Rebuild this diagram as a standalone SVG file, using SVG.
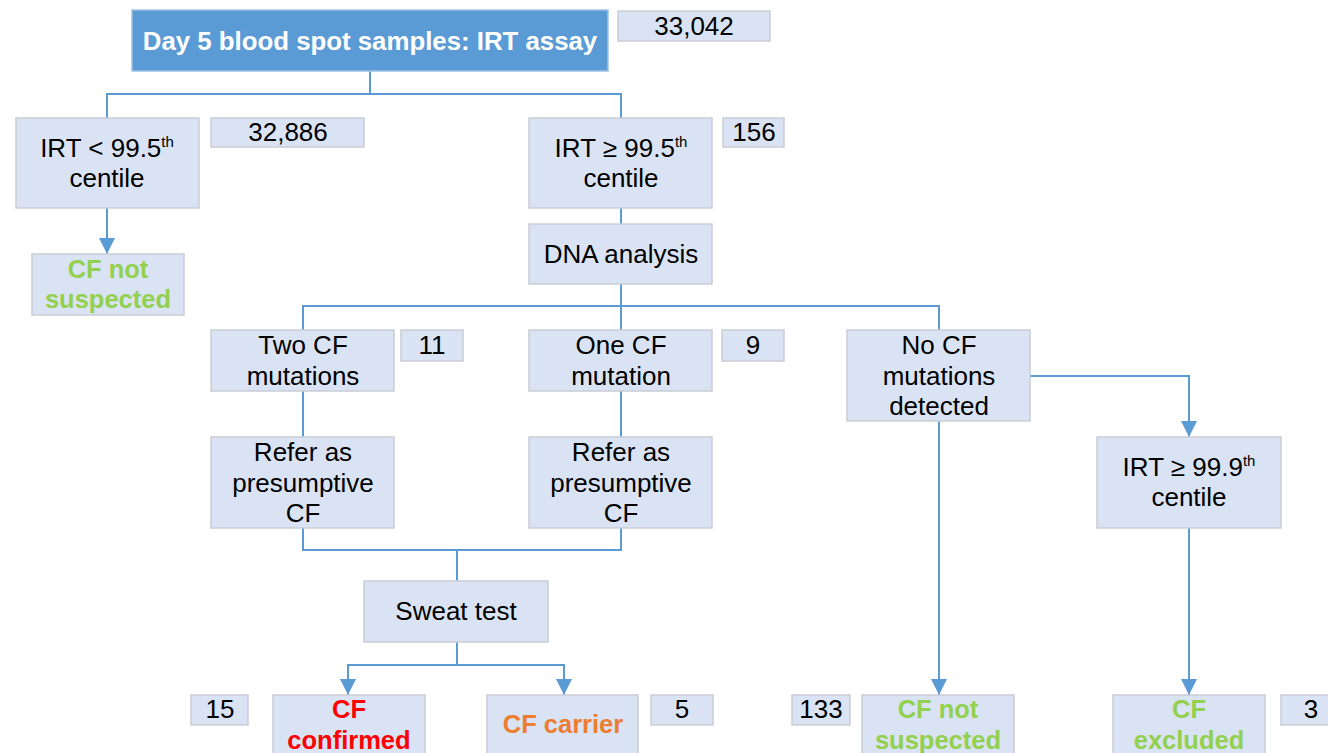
<svg xmlns="http://www.w3.org/2000/svg" width="1328" height="753" viewBox="0 0 1328 753">
<style>
.n{fill:#dae3f3;stroke:#c9cdd6;stroke-width:1.5}
.t{font-family:"Liberation Sans",Arial,sans-serif;font-size:26px;fill:#000;text-anchor:middle}
.b{font-weight:bold;font-size:25.5px}
.g{fill:#92d050}
.r{fill:#ff0000}
.o{fill:#ed7d31}
.c{fill:none;stroke:#5b9bd5;stroke-width:2}
.sup{font-size:15px}
</style>
<defs>
<marker id="ah" markerUnits="userSpaceOnUse" markerWidth="17" markerHeight="16" refX="16" refY="8" orient="auto" viewBox="0 0 17 16">
<path d="M0,0 L16,8 L0,16 Z" fill="#5b9bd5"/>
</marker>
</defs>
<rect width="1328" height="753" fill="#fff"/>
<g id="connectors">
<path class="c" d="M370,71 V94 M107,118 V94 H621 V118"/>
<path class="c" d="M107,208 V254" marker-end="url(#ah)"/>
<path class="c" d="M621,208 V224 M621,284 V330 M303,330 V306 H939 V330"/>
<path class="c" d="M1030,376 H1189 V437" marker-end="url(#ah)"/>
<path class="c" d="M303,391 V437 M621,391 V437"/>
<path class="c" d="M303,528 V550 H621 V528 M457,550 V581"/>
<path class="c" d="M457,642 V665 H348 V695" marker-end="url(#ah)"/>
<path class="c" d="M457,665 H564 V695" marker-end="url(#ah)"/>
<path class="c" d="M939,421 V695" marker-end="url(#ah)"/>
<path class="c" d="M1189,528 V695" marker-end="url(#ah)"/>
</g>
<g id="start">
<rect x="132" y="10" width="476" height="61" fill="#5b9bd5" stroke="#9dc3e6" stroke-width="1.5"/>
<text class="t b" x="370" y="50" style="fill:#fff;font-size:25.8px">Day 5 blood spot samples: IRT assay</text>
</g>
<g id="n33042"><rect class="n" x="618" y="11" width="152" height="30"/><text class="t" x="694" y="35">33,042</text></g>
<g id="irtLow">
<rect class="n" x="16" y="118" width="183" height="90"/>
<text class="t" x="107" y="157">IRT &lt; 99.5<tspan class="sup" dy="-10">th</tspan></text>
<text class="t" x="107" y="187">centile</text>
</g>
<g id="n32886"><rect class="n" x="211" y="118" width="153" height="29"/><text class="t" x="288" y="141">32,886</text></g>
<g id="irtHigh">
<rect class="n" x="529" y="118" width="183" height="90"/>
<text class="t" x="621" y="157">IRT ≥ 99.5<tspan class="sup" dy="-10">th</tspan></text>
<text class="t" x="621" y="187">centile</text>
</g>
<g id="n156"><rect class="n" x="723" y="118" width="61" height="29"/><text class="t" x="754" y="141">156</text></g>
<g id="notSusp1">
<rect class="n" x="32" y="254" width="152" height="61"/>
<text class="t b g" x="108" y="278">CF not</text>
<text class="t b g" x="108" y="308">suspected</text>
</g>
<g id="dna"><rect class="n" x="529" y="224" width="183" height="60"/><text class="t" x="621" y="263">DNA analysis</text></g>
<g id="twoCF">
<rect class="n" x="211" y="330" width="183" height="61"/>
<text class="t" x="303" y="354">Two CF</text>
<text class="t" x="303" y="385">mutations</text>
</g>
<g id="n11"><rect class="n" x="401" y="330" width="62" height="31"/><text class="t" x="432" y="354">11</text></g>
<g id="oneCF">
<rect class="n" x="529" y="330" width="183" height="61"/>
<text class="t" x="621" y="354">One CF</text>
<text class="t" x="621" y="385">mutation</text>
</g>
<g id="n9"><rect class="n" x="722" y="330" width="62" height="31"/><text class="t" x="753" y="354">9</text></g>
<g id="noCF">
<rect class="n" x="847" y="330" width="183" height="91"/>
<text class="t" x="939" y="354">No CF</text>
<text class="t" x="939" y="385">mutations</text>
<text class="t" x="939" y="415">detected</text>
</g>
<g id="refer1">
<rect class="n" x="211" y="437" width="183" height="91"/>
<text class="t" x="303" y="461">Refer as</text>
<text class="t" x="303" y="492">presumptive</text>
<text class="t" x="303" y="522">CF</text>
</g>
<g id="refer2">
<rect class="n" x="529" y="437" width="183" height="91"/>
<text class="t" x="621" y="461">Refer as</text>
<text class="t" x="621" y="492">presumptive</text>
<text class="t" x="621" y="522">CF</text>
</g>
<g id="irt999">
<rect class="n" x="1097" y="437" width="184" height="91"/>
<text class="t" x="1189" y="476">IRT ≥ 99.9<tspan class="sup" dy="-10">th</tspan></text>
<text class="t" x="1189" y="506">centile</text>
</g>
<g id="sweat"><rect class="n" x="364" y="581" width="184" height="61"/><text class="t" x="456" y="620">Sweat test</text></g>
<g id="n15"><rect class="n" x="191" y="695" width="57" height="30"/><text class="t" x="220" y="718">15</text></g>
<g id="confirmed">
<rect class="n" x="273" y="695" width="152" height="70"/>
<text class="t b r" x="349" y="718">CF</text>
<text class="t b r" x="349" y="749">confirmed</text>
</g>
<g id="carrier">
<rect class="n" x="487" y="695" width="151" height="70"/>
<text class="t b o" x="563" y="733">CF carrier</text>
</g>
<g id="n5"><rect class="n" x="651" y="695" width="62" height="30"/><text class="t" x="682" y="718">5</text></g>
<g id="n133"><rect class="n" x="792" y="695" width="58" height="30"/><text class="t" x="821" y="718">133</text></g>
<g id="notSusp2">
<rect class="n" x="862" y="695" width="152" height="70"/>
<text class="t b g" x="938" y="718">CF not</text>
<text class="t b g" x="938" y="749">suspected</text>
</g>
<g id="excluded">
<rect class="n" x="1113" y="695" width="152" height="70"/>
<text class="t b g" x="1189" y="718">CF</text>
<text class="t b g" x="1189" y="749">excluded</text>
</g>
<g id="n3"><rect class="n" x="1281" y="695" width="60" height="30"/><text class="t" x="1311" y="718">3</text></g>
</svg>
